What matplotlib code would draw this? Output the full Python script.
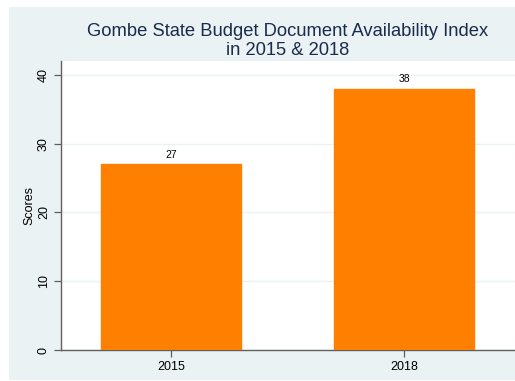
import matplotlib
matplotlib.use("Agg")
import matplotlib.pyplot as plt

categories = ["2015", "2018"]
scores = [27, 38]
yticks = [0, 10, 20, 30, 40]

plt.rcParams['font.family'] = ['Liberation Sans', 'DejaVu Sans']

W, H = 515, 381
fig = plt.figure(figsize=(W/100, H/100), dpi=100, facecolor='white')
bg = '#EAF2F3'
bgax = fig.add_axes([9/W, 1/H, 1 - 9/W, (H - 8)/H], zorder=-10)
bgax.set_facecolor(bg)
bgax.set_xticks([]); bgax.set_yticks([])
for s in bgax.spines.values():
    s.set_visible(False)

ax = fig.add_axes([61/W, 1 - 350/H, (W - 61)/W, (350 - 61)/H], zorder=1)
ax.set_facecolor('white')
x = list(range(len(categories)))
ax.bar(x, scores, width=0.60, color='#FF8000', edgecolor='#FF8000', zorder=3)
for xi, v in zip(x, scores):
    ax.text(xi, v + 0.6, str(v), ha='center', va='bottom', fontsize=7.5, color='black')

ax.set_xlim(-0.472, 1.476)
ax.set_ylim(0, 42)
ax.set_xticks(x)
ax.set_xticklabels(categories, fontsize=9)
ax.set_yticks(yticks)
ax.set_yticklabels([str(t) for t in yticks], fontsize=9, rotation=90, va='center')
ax.yaxis.grid(True, color=bg, linewidth=1, zorder=0)
ax.set_axisbelow(True)
for s in ['top', 'right']:
    ax.spines[s].set_visible(False)
for s in ['left', 'bottom']:
    ax.spines[s].set_color('#606060')
    ax.spines[s].set_linewidth(1.0)
ax.tick_params(axis='both', length=5, width=0.9, color='#606060', pad=3)
ax.set_ylabel('Scores', fontsize=9, labelpad=2)

fig.text((61 + W) / 2 / W, 1 - 41/H, "Gombe State Budget Document Availability Index\nin 2015 & 2018",
         ha='center', va='center', fontsize=13.2, color='#1a2b4c', linespacing=1.12)

fig.savefig('out.png', dpi=100, facecolor='white')
